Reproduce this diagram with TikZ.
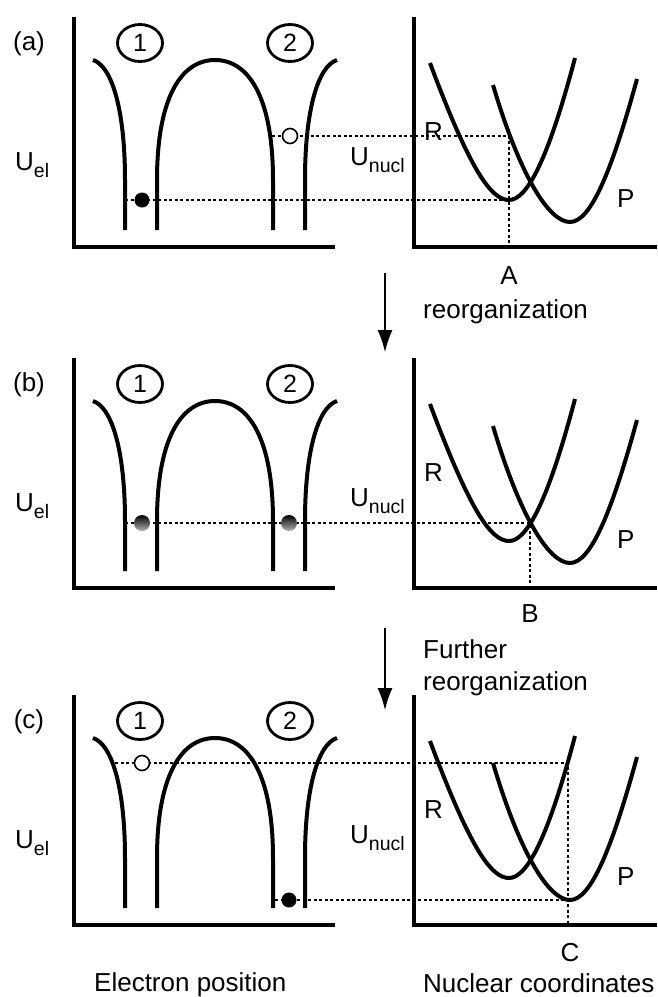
\documentclass[tikz,border=0pt]{standalone}
\usepackage{fontspec}
\setmainfont{Liberation Sans}
\usetikzlibrary{positioning, arrows.meta, shapes.geometric}
\newcommand{\lowsub}[1]{\raisebox{-7pt}{\fontsize{19.5}{22}\selectfont #1}}

\begin{document}
\begin{tikzpicture}[x=1pt,y=-1pt,
            txt/.style={font=\fontsize{26}{30}\selectfont,inner sep=0pt},
            axis/.style={line width=4pt,line join=miter},
            curve/.style={line width=4pt},
            guide/.style={line width=1.3pt,dash pattern=on 3pt off 2.5pt},
            site/.style={draw,line width=2.8pt,ellipse,minimum width=45pt,
                         minimum height=37pt,inner sep=0pt,
                         font=\fontsize{25}{28}\selectfont},
            dot/.style={circle,inner sep=0pt,minimum size=15pt},
            ball/.style={circle,inner sep=0pt,minimum size=16pt,
                         top color=black,bottom color=black!30},
            arrow/.style={-{Latex[length=22pt,width=15pt]},line width=1.3pt}]
        \useasboundingbox (0,0) rectangle (658,997);
        % the three panels share wells, parabolas and labels
        \foreach \p/\dy in {a/0,b/341,c/678}{
          \begin{scope}[shift={(0,\dy)}]
            \draw[axis] (74,17) -- (74,247) -- (335,247);
            \draw[axis] (414,17) -- (414,247) -- (657,247);
            \draw[curve] (93,60) .. controls (112,66) and (125,110) .. (125,180) -- (125,230);
            \draw[curve] (157,230) -- (157,180) .. controls (157,100) and (180,60) .. (215,60)
                .. controls (250,60) and (273,100) .. (273,180) -- (273,230);
            \draw[curve] (305,230) -- (305,180) .. controls (305,110) and (318,66) .. (337,60);
            \draw[curve] (430,63) .. controls (470,170) and (491,200) .. (509,200)
                .. controls (527,200) and (548,160) .. (575,58);
            \draw[curve] (493,85) .. controls (520,176) and (549,222) .. (570,222)
                .. controls (591,222) and (612,170) .. (637,79);
            \node[txt] (tag\p) at (29,44) {(\p)};
            \node[site] (one\p) at (140,43) {1};
            \node[site] (two\p) at (290,43) {2};
            \node[txt,anchor=base west] (uel\p) at (15,170) {U\lowsub{el}};
            \node[txt,anchor=base west] (unucl\p) at (350,165) {U\lowsub{nucl}};
            \node[txt,anchor=base west] (R\p) at (424,140) {R};
            \node[txt,anchor=base west] (P\p) at (617,207) {P};
          \end{scope}
        }
        % (a)
        \coordinate (a-wL) at (125,200);
        \coordinate (a-Rmin) at (509,200);
        \coordinate (a-wM) at (272,136);
        \coordinate (a-Phit) at (509,136);
        \coordinate (a-ax) at (509,247);
        \draw[guide] (a-wL) -- (a-Rmin);
        \draw[guide] (a-wM) -- (a-Phit) -- (a-ax);
        \node[dot,fill=black] (a-e) at (142,200) {};
        \node[dot,draw,fill=white,line width=1.6pt] (a-h) at (290,136) {};
        \node[txt] (A) at (509,276) {A};
        \coordinate (s1) at (385,273);
        \coordinate (t1) at (385,352);
        \draw[arrow] (s1) -- (t1);
        \node[txt,anchor=base west] (reorg) at (423,318) {reorganization};
        % (b)
        \coordinate (b-wL) at (125,523);
        \coordinate (b-x) at (530,523);
        \coordinate (b-ax) at (530,588);
        \draw[guide] (b-wL) -- (b-x) -- (b-ax);
        \node[ball] (b-e1) at (142,523) {};
        \node[ball] (b-e2) at (289,523) {};
        \node[txt] (B) at (530,614) {B};
        \coordinate (s2) at (385,628);
        \coordinate (t2) at (385,710);
        \draw[arrow] (s2) -- (t2);
        \node[txt,anchor=base west] (further) at (423,658) {Further};
        \node[txt,anchor=base west] (reorg2) at (423,690) {reorganization};
        % (c)
        \coordinate (c-wL) at (115,763);
        \coordinate (c-hit) at (568,763);
        \coordinate (c-ax) at (568,925);
        \coordinate (c-wM) at (275,900);
        \coordinate (c-Pmin) at (568,900);
        \draw[guide] (c-wL) -- (c-hit) -- (c-ax);
        \draw[guide] (c-wM) -- (c-Pmin);
        \node[dot,draw,fill=white,line width=1.6pt] (c-h) at (142,763) {};
        \node[dot,fill=black] (c-e) at (289,900) {};
        \node[txt] (C) at (570,953) {C};
        \node[txt,anchor=base west] (elpos) at (94,991) {Electron position};
        \node[txt,anchor=base west] (nucco) at (423,992) {Nuclear coordinates};
        \end{tikzpicture}
\end{document}
